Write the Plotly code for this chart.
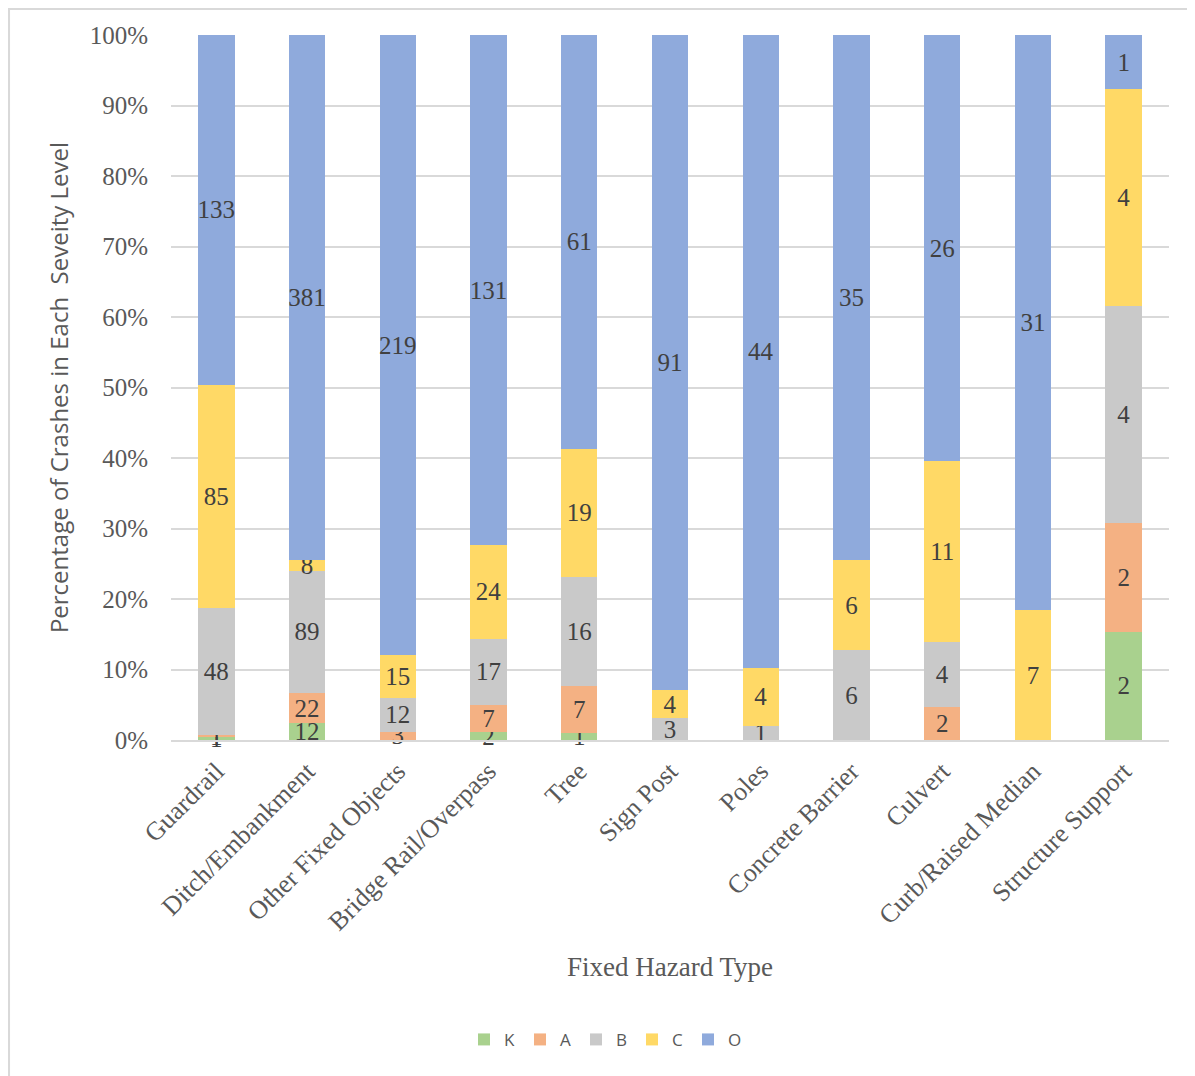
import plotly.graph_objects as go

categories = ["Guardrail", "Ditch/Embankment", "Other Fixed Objects", "Bridge Rail/Overpass",
              "Tree", "Sign Post", "Poles", "Concrete Barrier", "Culvert",
              "Curb/Raised Median", "Structure Support"]
K = [1, 12, None, 2, 1, None, None, None, None, None, 2]
A = [1, 22, 3, 7, 7, None, None, None, 2, None, 2]
B = [48, 89, 12, 17, 16, 3, 1, 6, 4, None, 4]
C = [85, 8, 15, 24, 19, 4, 4, 6, 11, 7, 4]
O = [133, 381, 219, 131, 61, 91, 44, 35, 26, 31, 1]
series = [("K", K, "#A9D18E"), ("A", A, "#F4B183"), ("B", B, "#C9C9C9"),
          ("C", C, "#FFD966"), ("O", O, "#8FAADC")]
yticks = [0, 10, 20, 30, 40, 50, 60, 70, 80, 90, 100]

fig = go.Figure()
for name, vals, col in series:
    fig.add_trace(go.Bar(
        name=name, x=categories, y=vals, marker=dict(color=col, line=dict(width=0)),
        text=[str(v) if v is not None else "" for v in vals],
        textposition="inside", insidetextanchor="middle", textangle=0,
        textfont=dict(family="Liberation Serif", size=25, color="#404040"),
        constraintext="none", cliponaxis=False,
    ))

fig.update_layout(
    barmode="stack", barnorm="percent", bargap=0.6,
    width=1195, height=1076,
    margin=dict(l=163, r=34, t=27, b=344),
    plot_bgcolor="white", paper_bgcolor="white",
    uniformtext=dict(minsize=25, mode="show"),
    legend=dict(orientation="h", xref="container", x=0.5, xanchor="center",
                yref="container", y=0.041, yanchor="middle",
                font=dict(family="Open Sans", size=17, color="#595959"),
                traceorder="normal"),
    xaxis=dict(tickangle=-45, tickfont=dict(family="Liberation Serif", size=26, color="#595959"),
               ticklabelstandoff=4,
               title=dict(text="Fixed Hazard Type", standoff=22,
                          font=dict(family="Liberation Serif", size=27, color="#595959")),
               showline=True, linecolor="#D9D9D9", linewidth=1.5, ticks="", automargin=False),
    yaxis=dict(range=[0, 100], tickvals=yticks, ticktext=[f"{v}%" for v in yticks],
               tickfont=dict(family="Liberation Serif", size=25, color="#595959"),
               gridcolor="#D9D9D9", gridwidth=1.5, zeroline=False, ticks="", ticklabelstandoff=22,
               automargin=False,
               title=dict(text="Percentage of Crashes in Each  Seveity Level", standoff=14,
                          font=dict(family="Open Sans", size=24, color="#595959"))),
    shapes=[dict(type="rect", xref="paper", yref="paper", x0=-0.1623, x1=1.1, y0=-0.6, y1=1.0369,
                 line=dict(color="#D9D9D9", width=2))],
)
fig.write_html("out.html")
